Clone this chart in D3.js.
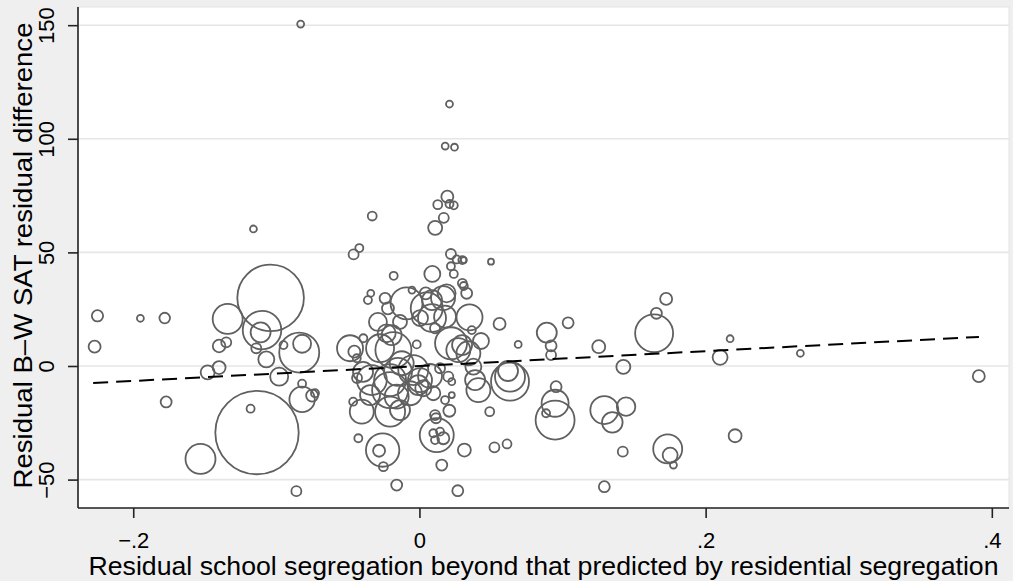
<!DOCTYPE html>
<html>
<head>
<meta charset="utf-8">
<script src="https://cdn.jsdelivr.net/npm/d3@7"></script>
<style>
  html, body { margin: 0; padding: 0; background: #efefef; }
  svg { display: block; font-family: 'Liberation Sans', Arial, Helvetica, sans-serif; }
</style>
</head>
<body>
<div id="SCATTER"></div>
<script>
// residual school segregation (x), residual B-W SAT difference (y), weight (marker area)
const segX = [
  -0.225, -0.227, -0.195, -0.178, -0.177, -0.104, -0.134, -0.110, -0.111, -0.140,
  -0.135, -0.114, -0.107, -0.095, -0.084, -0.082, -0.148, -0.140, -0.098, -0.082,
  -0.082, -0.075, -0.073, -0.1135, -0.118, -0.153, -0.086, -0.083, -0.116, -0.033,
  0.0195, 0.0128, 0.021, 0.024, 0.017, 0.011, -0.042, -0.046, 0.022, 0.050,
  0.026, 0.030, 0.031, 0.022, 0.024, 0.009, -0.018, 0.030, 0.031, 0.033,
  -0.034, -0.036, -0.024, -0.022, -0.009, 0.035, 0.056, 0.069, 0.089, 0.092,
  0.092, 0.0044, 0.0051, -0.0052, 0.019, 0.0179, 0.0366, 0.043, 0.0109, -0.0019,
  -0.0485, -0.0455, -0.0392, -0.0229, -0.0275, -0.0182, 0.0221, 0.0272, 0.0342, -0.0438,
  -0.0194, -0.0333, -0.0205, -0.0205, -0.0159, -0.0403, -0.0205, -0.0136, -0.0066, -0.0008,
  0.0027, 0.0004, 0.0097, -0.0043, -0.0124, 0.0144, 0.0202, 0.0226, 0.0179, 0.0226,
  0.0209, 0.0109, 0.0116, 0.0121, 0.0097, 0.0167, 0.0109, 0.0144, -0.0257, -0.0282,
  -0.0252, -0.0427, 0.0156, 0.0314, 0.0524, 0.0612, 0.0491, -0.0159, 0.0268, 0.0633,
  0.0633, 0.0619, 0.0389, 0.0412, 0.0377, -0.0463, -0.0394, -0.0136, 0.0004, 0.0088,
  -0.0436, 0.1039, 0.1253, 0.1425, 0.164, 0.1656, 0.1724, 0.2101, 0.2171, 0.0955,
  0.0948, 0.0948, 0.0885, 0.1292, 0.1444, 0.1348, 0.1421, 0.1735, 0.1752, 0.1775,
  0.2206, 0.1292, 0.2662, 0.3909, 0.021, 0.018, 0.0245,
  0.0165, 0.0088, -0.029, -0.015, 0.0074, 0.0298, -0.0345
];
const satY = [
  22.1, 8.5, 21.0, 21.1, -15.8, 30.0, 20.7, 15.8, 14.8, 8.8,
  10.4, 7.8, 2.9, 9.2, 5.9, 9.8, -2.8, -0.7, -4.7, -7.8,
  -14.7, -13.0, -12.0, -29.3, -18.8, -40.9, -55.1, 150.5, 60.3, 66.0,
  74.5, 71.0, 71.3, 70.7, 65.2, 60.8, 51.9, 49.1, 49.3, 45.9,
  46.9, 46.6, 46.6, 43.9, 40.5, 40.5, 39.7, 36.4, 35.2, 32.0,
  32.0, 29.0, 29.8, 25.4, 27.6, 21.4, 18.5, 9.5, 14.7, 4.8,
  8.9, 32.0, 25.4, 33.4, 32.0, 21.7, 15.8, 11.0, 16.6, 9.5,
  7.8, 6.3, 12.2, 14.4, 7.8, 7.0, 10.0, 7.0, 5.6, 3.4,
  13.6, -6.2, -6.2, -10.6, -13.5, -20.1, -20.1, -19.4, -12.0, -8.4,
  -9.8, -6.2, -12.0, -1.8, 1.2, -1.0, -4.7, -6.9, -15.0, -12.8,
  -19.7, -21.6, -23.0, -30.4, -29.6, -31.8, -32.6, -28.9, -37.0, -37.3,
  -44.3, -31.8, -43.6, -37.0, -35.8, -34.3, -20.1, -52.4, -54.9, -6.9,
  -4.7, -2.2, -6.2, -10.6, -0.3, -15.7, -2.6, 19.4, 21.1, 29.0,
  -5.3, 19.0, 8.5, -0.4, 14.4, 23.2, 29.5, 3.8, 12.0, -9.1,
  -16.4, -23.8, -20.8, -19.4, -17.9, -24.8, -37.7, -36.5, -39.2, -43.6,
  -30.7, -53.1, 5.6, -4.5, 115.3, 96.8, 96.3,
  29.9, 21.1, 19.4, -2.6, -4.4, 9.2, -12.8
];
const weight = [
  32, 36, 12, 28, 30, 1109, 225, 372, 100, 40,
  25, 25, 64, 16, 400, 81, 49, 42, 81, 16,
  161, 36, 16, 1739, 16, 225, 25, 12, 12, 20,
  36, 20, 16, 16, 25, 49, 16, 25, 25, 9,
  16, 16, 9, 16, 16, 64, 16, 20, 16, 30,
  12, 16, 30, 36, 256, 169, 36, 12, 100, 25,
  30, 36, 256, 12, 81, 121, 16, 64, 25, 16,
  169, 36, 16, 81, 196, 324, 256, 144, 144, 16,
  100, 225, 256, 324, 144, 144, 225, 100, 144, 100,
  64, 144, 49, 225, 144, 25, 25, 12, 16, 9,
  36, 25, 25, 289, 16, 36, 16, 16, 279, 36,
  20, 16, 30, 42, 25, 20, 20, 30, 30, 361,
  225, 100, 100, 144, 64, 16, 100, 49, 64, 100,
  25, 30, 42, 49, 361, 30, 36, 56, 12, 30,
  182, 380, 16, 196, 86, 106, 25, 210, 56, 12,
  42, 30, 12, 36, 12, 12, 12,
  144, 196, 81, 196, 144, 100, 100
];

// fitted line end points
const fitX = [-0.228, 0.391];
const fitY = [-7.5, 12.8];

const xTicks = [-0.2, 0, 0.2, 0.4];
const xTickLabels = ['\u2212.2', '0', '.2', '.4'];
const yTicks = [-50, 0, 50, 100, 150];
const yTickLabels = ['\u221250', '0', '50', '100', '150'];

const xTitle = 'Residual school segregation beyond that predicted by residential segregation';
const yTitle = 'Residual B\u2013W SAT residual difference';

const width = 1013;
const height = 581;
const margin = {top: 7, right: 4, bottom: 73, left: 78};

const svg = d3.select('#SCATTER')
  .append('svg')
  .attr('width', width)
  .attr('height', height);

svg.append('rect')
  .attr('width', width)
  .attr('height', height)
  .attr('fill', '#efefef');

const x = d3.scaleLinear()
  .domain([-0.2386, 0.412])
  .range([margin.left, width - margin.right]);

const y = d3.scaleLinear()
  .domain([-62.5, 158])
  .range([height - margin.bottom, margin.top]);

const r = d3.scaleSqrt()
  .domain([0, 1739])
  .range([0, 41.7]);

// plot region
svg.append('rect')
  .attr('x', margin.left)
  .attr('y', margin.top)
  .attr('width', width - margin.left - margin.right)
  .attr('height', height - margin.top - margin.bottom)
  .attr('fill', '#fff')
  .attr('stroke', '#e4e4e4')
  .attr('stroke-width', 1);

// horizontal grid
svg.append('g')
  .selectAll('line')
  .data(yTicks)
  .join('line')
  .attr('x1', margin.left)
  .attr('x2', width - margin.right)
  .attr('y1', d => y(d))
  .attr('y2', d => y(d))
  .attr('stroke', '#e6e6e6')
  .attr('stroke-width', 1.6);

const points = segX.map((d, i) => ({x: d, y: satY[i], w: weight[i]}));

svg.append('g')
  .selectAll('circle')
  .data(points)
  .join('circle')
  .attr('cx', d => x(d.x))
  .attr('cy', d => y(d.y))
  .attr('r', d => r(d.w))
  .attr('fill', 'none')
  .attr('stroke', '#606060')
  .attr('stroke-width', 1.8);

const line = d3.line()
  .x(d => x(d[0]))
  .y(d => y(d[1]));

svg.append('path')
  .datum(fitX.map((d, i) => [d, fitY[i]]))
  .attr('fill', 'none')
  .attr('stroke', '#000')
  .attr('stroke-width', 2)
  .attr('stroke-dasharray', '15,8')
  .attr('d', line);

// axes
const xAxis = g => g
  .attr('transform', `translate(0,${height - margin.bottom})`)
  .call(d3.axisBottom(x).tickValues(xTicks).tickSize(10).tickSizeOuter(0)
    .tickFormat((d, i) => xTickLabels[i]))
  .call(g => g.select('.domain').attr('stroke', '#222').attr('stroke-width', 1.6)
    .attr('d', `M${margin.left},0H${width - margin.right}`))
  .call(g => g.selectAll('.tick line').attr('stroke', '#222').attr('stroke-width', 1.6))
  .call(g => g.selectAll('.tick text')
    .attr('y', 40)
    .attr('dy', 0)
    .attr('fill', '#000')
    .attr('font-size', 22)
    .attr('font-family', 'Liberation Sans, Arial, sans-serif'));

const yAxis = g => g
  .attr('transform', `translate(${margin.left},0)`)
  .call(d3.axisLeft(y).tickValues(yTicks).tickSize(10).tickSizeOuter(0)
    .tickFormat((d, i) => yTickLabels[i]))
  .call(g => g.select('.domain').attr('stroke', '#222').attr('stroke-width', 1.6)
    .attr('d', `M0,${margin.top}V${height - margin.bottom}`))
  .call(g => g.selectAll('.tick line').attr('stroke', '#222').attr('stroke-width', 1.6))
  .call(g => g.selectAll('.tick text')
    .attr('transform', 'rotate(-90)')
    .attr('x', 0)
    .attr('y', -24)
    .attr('dy', 0)
    .attr('text-anchor', 'middle')
    .attr('fill', '#000')
    .attr('font-size', 22)
    .attr('font-family', 'Liberation Sans, Arial, sans-serif'));

svg.append('g').call(xAxis);
svg.append('g').call(yAxis);

svg.append('text')
  .attr('x', (margin.left + width - margin.right) / 2)
  .attr('y', 575)
  .attr('text-anchor', 'middle')
  .attr('font-size', 25)
  .attr('textLength', 910)
  .attr('lengthAdjust', 'spacingAndGlyphs')
  .attr('fill', '#000')
  .text(xTitle);

svg.append('text')
  .attr('transform', `translate(32,${(margin.top + height - margin.bottom) / 2 - 2}) rotate(-90)`)
  .attr('text-anchor', 'middle')
  .attr('font-size', 26)
  .attr('textLength', 466)
  .attr('lengthAdjust', 'spacingAndGlyphs')
  .attr('fill', '#000')
  .text(yTitle);
</script>
</body>
</html>
